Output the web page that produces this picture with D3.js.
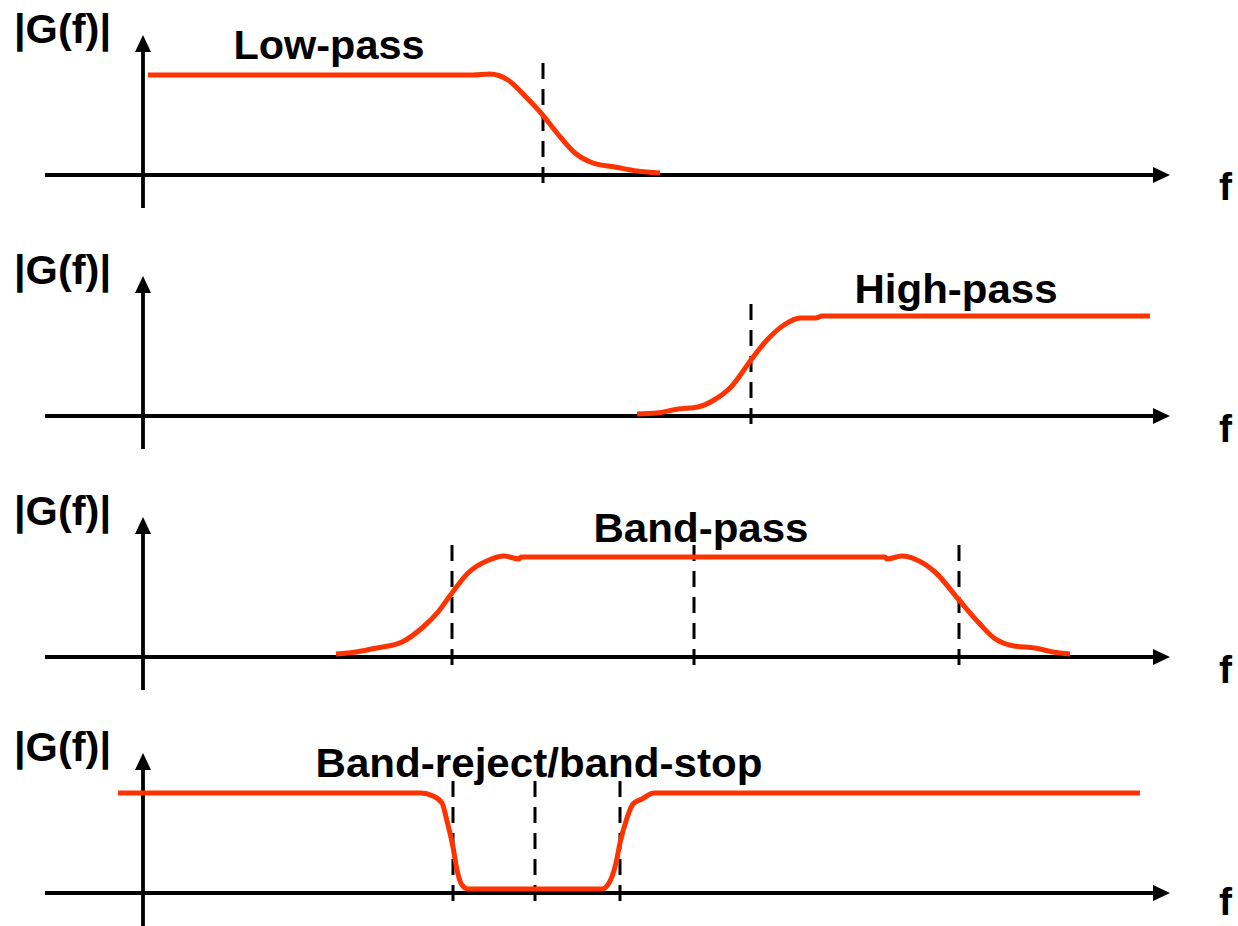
<!DOCTYPE html>
<html>
<head>
<meta charset="utf-8">
<script src="https://cdn.jsdelivr.net/npm/d3@7"></script>
<style>
  html, body { margin: 0; padding: 0; background: #fff; }
  svg { display: block; }
  text { font-family: "Liberation Sans", Arial, sans-serif; font-weight: bold; fill: #000; }
</style>
</head>
<body>
<svg id="chart" width="1238" height="926"></svg>
<script>
// ---------- DATA ----------
const panelNames = ["Low-pass", "High-pass", "Band-pass", "Band-reject/band-stop"];
const yLabel = "|G(f)|";
const xLabel = "f";

// frequency (arbitrary units) and |G(f)| (normalised) for each response
const lowPassF   = [0.05, 3.30, 3.47, 3.65, 3.83, 3.98, 4.14, 4.32, 4.50, 4.72, 4.94, 5.17];
const lowPassG   = [1.00, 1.00, 1.01, 0.95, 0.78, 0.62, 0.42, 0.22, 0.12, 0.08, 0.04, 0.02];

const highPassF  = [4.94, 5.14, 5.35, 5.55, 5.71, 5.88, 6.08, 6.24, 6.41, 6.57, 6.73, 6.79, 10.07];
const highPassG  = [0.02, 0.03, 0.07, 0.09, 0.16, 0.29, 0.56, 0.76, 0.91, 0.98, 0.98, 1.00, 1.00];

const bandPassF  = [1.93, 2.13, 2.34, 2.59, 2.79, 2.95, 3.09, 3.25, 3.46, 3.61, 3.76, 3.78,
                    7.42, 7.44, 7.59, 7.74, 7.92, 8.16, 8.36, 8.51, 8.71, 8.92, 9.10, 9.27];
const bandPassG  = [0.03, 0.05, 0.09, 0.15, 0.29, 0.45, 0.64, 0.84, 0.97, 1.01, 0.98, 1.00,
                    1.00, 0.98, 1.01, 0.97, 0.85, 0.57, 0.34, 0.19, 0.11, 0.09, 0.05, 0.03];

const bandStopF  = [-0.25, 2.78, 2.90, 2.99, 3.04, 3.10, 3.14, 3.19, 3.25, 4.59, 4.66, 4.73,
                    4.77, 4.84, 4.90, 4.99, 5.11, 9.97];
const bandStopG  = [1.00, 1.00, 0.97, 0.90, 0.72, 0.46, 0.23, 0.08, 0.04, 0.04, 0.10, 0.30,
                    0.50, 0.75, 0.89, 0.94, 1.00, 1.00];

// cut-off / centre frequencies marked with dashed lines
const lowPassMarks  = [4.00];
const highPassMarks = [6.08];
const bandPassMarks = [3.09, 5.51, 8.16];
const bandStopMarks = [3.10, 3.92, 4.77];

// ---------- LAYOUT ----------
const axisY = [175, 416, 657, 893];         // pixel row of each panel's f axis
const panelHeight = 100;                     // pixels for |G| = 1
const labelPos = [                           // title centre (f units) & text width
  {f: 1.86, w: 191},
  {f: 8.13, w: 203},
  {f: 5.58, w: 215},
  {f: 3.96, w: 447}
];
const titleRise = [116, 113, 115, 116];      // px above axis of title baseline
const fDrop = [25, 26, 26, 22];              // px below axis of "f" baseline

const series = [
  {f: lowPassF,  g: lowPassG,  marks: lowPassMarks},
  {f: highPassF, g: highPassG, marks: highPassMarks},
  {f: bandPassF, g: bandPassG, marks: bandPassMarks},
  {f: bandStopF, g: bandStopG, marks: bandStopMarks}
];

const red = "#ff3300";

const svg = d3.select("#chart");
const x = d3.scaleLinear().domain([0, 10]).range([143, 1143]);
const xAxisStart = -0.98, xAxisEnd = 10.27;

series.forEach((s, i) => {
  const y = d3.scaleLinear().domain([0, 1]).range([axisY[i], axisY[i] - panelHeight]);
  const g = svg.append("g");

  // x axis line with arrow head
  g.append("line")
    .attr("x1", x(xAxisStart)).attr("x2", x(xAxisEnd) - 14)
    .attr("y1", y(0)).attr("y2", y(0))
    .attr("stroke", "#000").attr("stroke-width", 3.8);
  const tipX = x(xAxisEnd);
  g.append("path")
    .attr("d", `M${tipX},${y(0)} L${tipX - 17},${y(0) - 8} L${tipX - 17},${y(0) + 8} Z`)
    .attr("fill", "#000");

  // y axis line with arrow head
  const ax = x(0);
  const yBottom = y(-0.33), yTip = y(1.40);
  g.append("line")
    .attr("x1", ax).attr("x2", ax)
    .attr("y1", yBottom).attr("y2", yTip + 14)
    .attr("stroke", "#000").attr("stroke-width", 3.8);
  g.append("path")
    .attr("d", `M${ax},${yTip} L${ax - 8},${yTip + 17} L${ax + 8},${yTip + 17} Z`)
    .attr("fill", "#000");

  // dashed marker lines
  g.selectAll("line.mark").data(s.marks).join("line")
    .attr("class", "mark")
    .attr("x1", d => x(d)).attr("x2", d => x(d))
    .attr("y1", y(1.12)).attr("y2", y(-0.17))
    .attr("stroke", "#000").attr("stroke-width", 3)
    .attr("stroke-dasharray", "16,10");

  // response curve
  const pts = s.f.map((f, k) => [f, s.g[k]]);
  const line = d3.line().x(d => x(d[0])).y(d => y(d[1])).curve(d3.curveMonotoneX);
  g.append("path")
    .attr("d", line(pts))
    .attr("fill", "none")
    .attr("stroke", red)
    .attr("stroke-width", 5)
    .attr("stroke-linejoin", "round");

  // y label
  g.append("text")
    .attr("x", 14).attr("y", y(0) - 132)
    .attr("font-size", 41)
    .attr("textLength", 97).attr("lengthAdjust", "spacingAndGlyphs")
    .text(yLabel);

  // x label
  g.append("text")
    .attr("x", 1219).attr("y", y(0) + fDrop[i])
    .attr("font-size", 39)
    .text(xLabel);

  // panel title
  g.append("text")
    .attr("x", x(labelPos[i].f)).attr("y", y(0) - titleRise[i])
    .attr("text-anchor", "middle")
    .attr("font-size", 40)
    .attr("textLength", labelPos[i].w).attr("lengthAdjust", "spacingAndGlyphs")
    .text(panelNames[i]);
});
</script>
</body>
</html>
